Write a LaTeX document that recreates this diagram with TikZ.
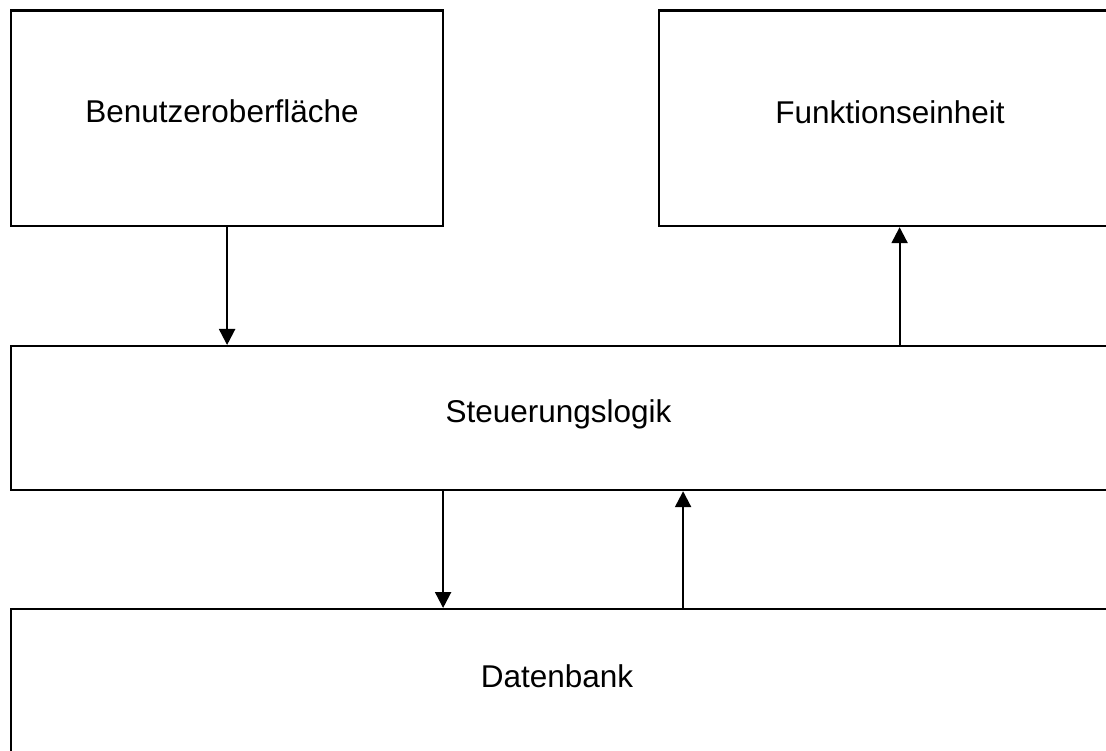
\documentclass[tikz,border=0pt]{standalone}
\usepackage{fontspec}
\setmainfont{Liberation Sans}
\usetikzlibrary{arrows.meta}
\begin{document}
\begin{tikzpicture}[x=1pt,y=-1pt,
  block/.style={draw=black,line width=2.2pt,inner sep=0pt,anchor=north west},
  lbl/.style={anchor=base,inner sep=0pt,font=\fontsize{31.5}{38}\selectfont},
  arr/.style={line width=2.2pt,-{Triangle[width=16pt,length=16pt]}}]
\useasboundingbox (0,0) rectangle (1106,751);
\clip (0,0) rectangle (1106,751);
\fill[white] (0,0) rectangle (1106,751);

% blocks
\node[block,minimum width=432pt,minimum height=215.5pt] (ui) at (10,9.5) {};
\node[block,minimum width=465pt,minimum height=215.5pt] (fu) at (658,9.5) {};
\node[block,minimum width=1098pt,minimum height=144pt] (ctrl) at (10,345) {};
\node[block,minimum width=1098pt,minimum height=149pt] (db) at (10,608) {};

% labels
\node[lbl] (uit) at (222,123) {Benutzeroberfläche};
\node[lbl] (fut) at (890,123.3) {Funktionseinheit};
\node[lbl] (ctrlt) at (558.5,422.3) {Steuerungslogik};
\node[lbl] (dbt) at (557,687.7) {Datenbank};

% connectors
\draw[arr] (ui.south) -- (ui.south |- ctrl.north);
\draw[arr] ([xshift=8pt]fu.south |- ctrl.north) -- ([xshift=8pt]fu.south);
\draw[arr] ([xshift=-117pt]ctrl.south) -- ([xshift=-117pt]db.north);
\draw[arr] ([xshift=123pt]db.north) -- ([xshift=123pt]ctrl.south);
\end{tikzpicture}
\end{document}
